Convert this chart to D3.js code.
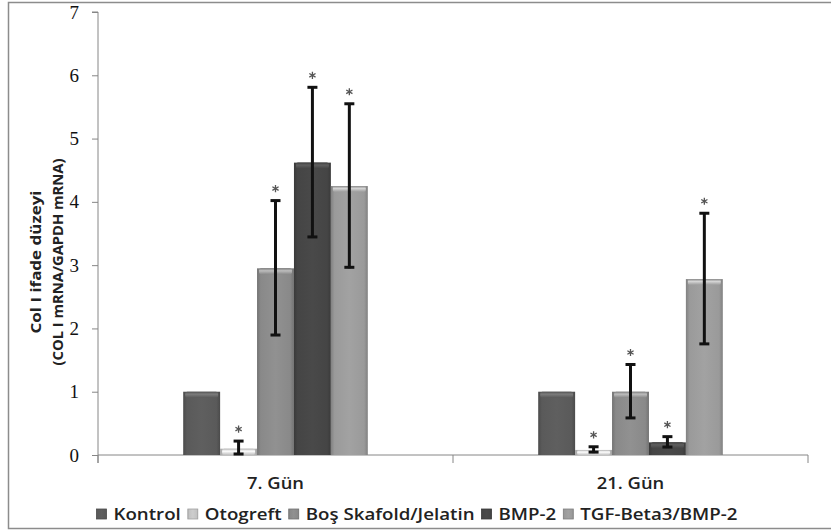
<!DOCTYPE html>
<html>
<head>
<meta charset="utf-8">
<script src="https://cdn.jsdelivr.net/npm/d3@7"></script>
<style>
  body { margin: 0; background: #fff; }
  svg { display: block; }
</style>
</head>
<body>
<div id="chart"></div>
<script>
// data
var days = ['7. Gün', '21. Gün'];
var groups = ['Kontrol', 'Otogreft', 'Boş Skafold/Jelatin', 'BMP-2', 'TGF-Beta3/BMP-2'];
var day7 = [1.0, 0.1, 2.95, 4.62, 4.25];
var day7_err = [0, 0.12, 1.07, 1.19, 1.3];
var day21 = [1.0, 0.08, 1.0, 0.2, 2.78];
var day21_err = [0, 0.05, 0.43, 0.09, 1.04];
var stars = [[false, true, true, true, true], [false, true, true, true, true]];
var yTicks = [0, 1, 2, 3, 4, 5, 6, 7];
var yTitle1 = 'Col I ifade düzeyi';
var yTitle2 = '(COL I mRNA/GAPDH mRNA)';

var colors = ['#5a5a5a', '#c2c2c2', '#898989', '#454545', '#9a9a9a'];

var W = 831, H = 530;
var mLeft = 98, mRight = 808, mTop = 12, mBottom = 455;
var labelFont = '"Open Sans", Lato, sans-serif';

var values = [day7, day21];
var errs = [day7_err, day21_err];
var rows = [];
days.forEach(function (d, i) {
  groups.forEach(function (g, j) {
    rows.push({day: d, group: g, gi: j, v: values[i][j], e: errs[i][j], star: stars[i][j]});
  });
});

var svg = d3.select('#chart').append('svg')
  .attr('width', W)
  .attr('height', H);

// outer frame
svg.append('rect')
  .attr('x', 8.5).attr('y', 2.5)
  .attr('width', W + 10).attr('height', 526)
  .attr('fill', '#fff')
  .attr('stroke', '#8c8c8c').attr('stroke-width', 1.5);

var defs = svg.append('defs');
colors.forEach(function (c, i) {
  var g = defs.append('linearGradient').attr('id', 'g' + i)
    .attr('x1', 0).attr('x2', 1).attr('y1', 0).attr('y2', 0);
  var base = d3.color(c);
  g.append('stop').attr('offset', 0).attr('stop-color', base.darker(0.5));
  g.append('stop').attr('offset', 0.1).attr('stop-color', base);
  g.append('stop').attr('offset', 0.5).attr('stop-color', base.brighter(0.15));
  g.append('stop').attr('offset', 0.9).attr('stop-color', base);
  g.append('stop').attr('offset', 1).attr('stop-color', base.darker(0.5));
  var t = defs.append('linearGradient').attr('id', 't' + i)
    .attr('x1', 0).attr('x2', 0).attr('y1', 0).attr('y2', 1);
  t.append('stop').attr('offset', 0).attr('stop-color', base.darker(0.3));
  t.append('stop').attr('offset', 0.4).attr('stop-color', base.brighter(0.9));
  t.append('stop').attr('offset', 1).attr('stop-color', base);
});

var x0 = d3.scaleBand().domain(days).range([mLeft, mRight]);
var x1 = d3.scaleBand().domain(groups)
  .range([x0.bandwidth() * 0.24, x0.bandwidth() * 0.76]);
var y = d3.scaleLinear().domain([0, 7]).range([mBottom, mTop]);

// y axis
var yAxis = svg.append('g')
  .attr('transform', 'translate(' + mLeft + ',0)')
  .call(d3.axisLeft(y).tickValues(yTicks).tickSize(6).tickPadding(13).tickFormat(d3.format('d')));
yAxis.select('.domain').attr('stroke', '#868686').attr('d', 'M-6,' + mTop + 'H0V' + (mBottom + 8));
yAxis.selectAll('.tick line').attr('stroke', '#868686');
yAxis.selectAll('.tick text')
  .attr('font-family', '"Liberation Serif", "DejaVu Serif", serif')
  .attr('font-size', 19).attr('fill', '#111');

// x axis
var xAxis = svg.append('g')
  .attr('transform', 'translate(0,' + mBottom + ')')
  .call(d3.axisBottom(x0).tickSize(0).tickPadding(22));
xAxis.select('.domain').attr('stroke', '#868686').attr('d', 'M' + mLeft + ',0H' + mRight);
xAxis.selectAll('.tick text')
  .attr('font-family', labelFont).attr('font-size', 17).attr('font-weight', 600)
  .attr('fill', '#222');
xAxis.selectAll('.tick text').each(function () {
  var w = this.getComputedTextLength();
  d3.select(this).attr('textLength', w * 1.08).attr('lengthAdjust', 'spacingAndGlyphs');
});
// category separators
svg.selectAll('.sep')
  .data([mLeft, x0(days[1]), mRight])
  .enter().append('line')
  .attr('class', 'sep')
  .attr('x1', function (d) { return d; }).attr('x2', function (d) { return d; })
  .attr('y1', mBottom).attr('y2', mBottom + 8)
  .attr('stroke', '#868686');

// bars
var bars = svg.append('g').selectAll('g.bar')
  .data(rows)
  .enter().append('g')
  .attr('class', 'bar')
  .attr('transform', function (d) { return 'translate(' + (x0(d.day) + x1(d.group)) + ',0)'; });

bars.append('rect')
  .attr('x', 0)
  .attr('y', function (d) { return y(d.v); })
  .attr('width', x1.bandwidth())
  .attr('height', function (d) { return mBottom - y(d.v); })
  .attr('fill', function (d) { return 'url(#g' + d.gi + ')'; });

bars.append('rect')
  .attr('x', 2)
  .attr('y', function (d) { return y(d.v); })
  .attr('width', x1.bandwidth() - 4)
  .attr('height', function (d) { return Math.min(6, mBottom - y(d.v)); })
  .attr('rx', 2)
  .attr('fill', function (d) { return 'url(#t' + d.gi + ')'; });

// error bars
var eb = bars.filter(function (d) { return d.e > 0; });
var cx = x1.bandwidth() / 2;
eb.append('line')
  .attr('x1', cx).attr('x2', cx)
  .attr('y1', function (d) { return y(d.v + d.e); })
  .attr('y2', function (d) { return y(Math.max(0, d.v - d.e)); })
  .attr('stroke', '#111').attr('stroke-width', 3);
eb.append('line')
  .attr('x1', cx - 5).attr('x2', cx + 5)
  .attr('y1', function (d) { return y(d.v + d.e); })
  .attr('y2', function (d) { return y(d.v + d.e); })
  .attr('stroke', '#111').attr('stroke-width', 3);
eb.append('line')
  .attr('x1', cx - 5).attr('x2', cx + 5)
  .attr('y1', function (d) { return y(Math.max(0, d.v - d.e)) - 1; })
  .attr('y2', function (d) { return y(Math.max(0, d.v - d.e)) - 1; })
  .attr('stroke', '#111').attr('stroke-width', 3);

// significance asterisks
bars.filter(function (d) { return d.star; })
  .append('path')
  .attr('transform', function (d) { return 'translate(' + cx + ',' + (y(d.v + d.e) - 12) + ')'; })
  .attr('d', d3.symbol(d3.symbolAsterisk, 36))
  .attr('fill', 'none')
  .attr('stroke', '#555')
  .attr('stroke-width', 1.3);

// y title
var yt = svg.append('text')
  .attr('transform', 'translate(41,262) rotate(-90)')
  .attr('text-anchor', 'middle')
  .attr('font-family', labelFont).attr('font-size', 15).attr('font-weight', 'bold')
  .attr('fill', '#222');
yt.append('tspan').attr('x', 0).attr('dy', 0)
  .attr('textLength', 143).attr('lengthAdjust', 'spacingAndGlyphs').text(yTitle1);
yt.append('tspan').attr('x', 0).attr('dy', 22)
  .attr('textLength', 207).attr('lengthAdjust', 'spacingAndGlyphs').text(yTitle2);

// legend
var leg = svg.append('g');
var items = leg.selectAll('g.item')
  .data(groups)
  .enter().append('g').attr('class', 'item');
items.append('rect')
  .attr('y', 509).attr('width', 10).attr('height', 10)
  .attr('fill', function (d, i) { return 'url(#g' + i + ')'; })
  .attr('stroke', function (d, i) { return d3.color(colors[i]).darker(0.5); })
  .attr('stroke-width', 0.8);
items.append('text')
  .attr('y', 520)
  .attr('font-family', labelFont).attr('font-size', 17).attr('font-weight', 600)
  .attr('fill', '#222')
  .text(function (d) { return d; });
var xpos = 0;
items.each(function () {
  var g = d3.select(this);
  var t = g.select('text');
  var w = t.node().getComputedTextLength() * 1.1;
  t.attr('textLength', w).attr('lengthAdjust', 'spacingAndGlyphs');
  g.select('rect').attr('x', xpos);
  t.attr('x', xpos + 17);
  xpos += 17 + w + 7;
});
leg.attr('transform', 'translate(' + (417 - (xpos - 7) / 2) + ',0)');
</script>
</body>
</html>
